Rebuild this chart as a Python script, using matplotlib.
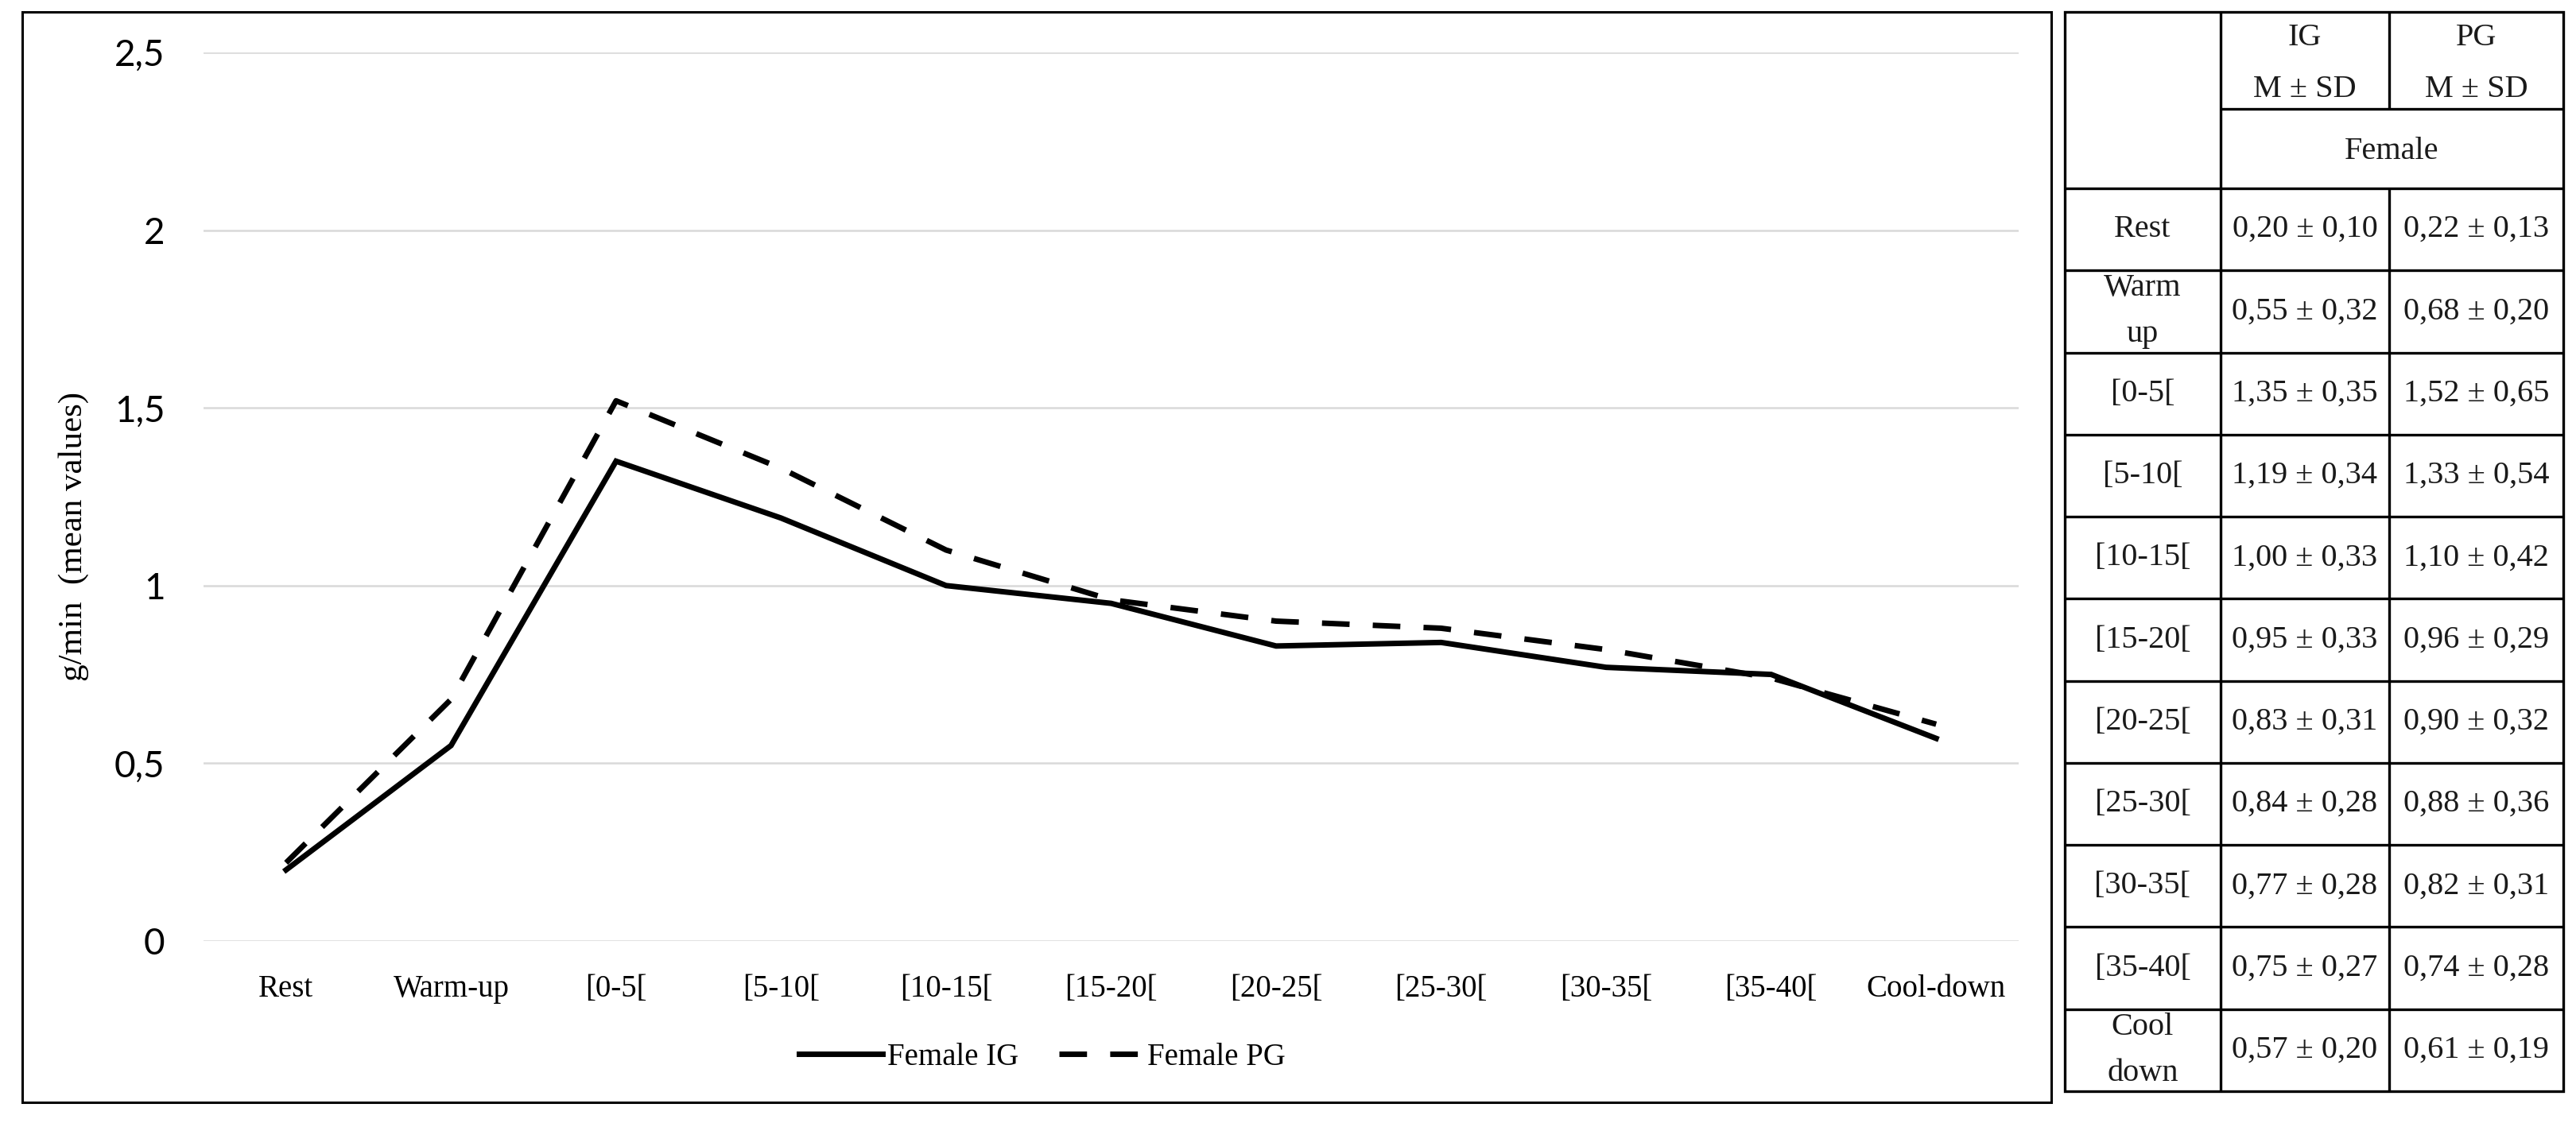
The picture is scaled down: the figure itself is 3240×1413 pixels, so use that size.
"""
Line chart of g/min mean values per exercise phase (Female IG vs PG),
with the summary table (M ± SD) drawn to the right.
"""

import matplotlib
matplotlib.use('Agg')
import matplotlib.pyplot as plt
from matplotlib.patches import Rectangle

# --- data -----------------------------------------------------------------
phases = ['Rest', 'Warm-up', '[0-5[', '[5-10[', '[10-15[', '[15-20[',
          '[20-25[', '[25-30[', '[30-35[', '[35-40[', 'Cool-down']
table_rows = ['Rest', 'Warm\nup', '[0-5[', '[5-10[', '[10-15[', '[15-20[',
              '[20-25[', '[25-30[', '[30-35[', '[35-40[', 'Cool\ndown']

ig_mean = [0.20, 0.55, 1.35, 1.19, 1.00, 0.95, 0.83, 0.84, 0.77, 0.75, 0.57]
ig_sd = [0.10, 0.32, 0.35, 0.34, 0.33, 0.33, 0.31, 0.28, 0.28, 0.27, 0.20]
pg_mean = [0.22, 0.68, 1.52, 1.33, 1.10, 0.96, 0.90, 0.88, 0.82, 0.74, 0.61]
pg_sd = [0.13, 0.20, 0.65, 0.54, 0.42, 0.29, 0.32, 0.36, 0.31, 0.28, 0.19]

y_ticks = [0, 0.5, 1, 1.5, 2, 2.5]
y_tick_labels = ['0', '0,5', '1', '1,5', '2', '2,5']

SERIF = 'Liberation Serif'
SANS = 'Lato'

W, H = 3241, 1413


def fmt(v):
    return f"{v:.2f}".replace('.', ',')


def fx(px):
    return px / W


def fy(py):
    return 1 - py / H


fig = plt.figure(figsize=(W / 100, H / 100), dpi=100)
fig.patch.set_facecolor('white')

# chart frame
fig.add_artist(Rectangle((fx(28), fy(1387)), fx(2580) - fx(28),
                         fy(15) - fy(1387), transform=fig.transFigure,
                         fill=False, ec='black', lw=2.2))

# --- line chart -------------------------------------------------------------
ax = fig.add_axes([fx(256), fy(1184), fx(2539) - fx(256), fy(66) - fy(1184)])
x = list(range(len(phases)))
ax.plot(x, ig_mean, color='black', lw=5, solid_joinstyle='miter',
        label='Female IG')
ax.plot(x, pg_mean, color='black', lw=5, linestyle=(0, (5.0, 4.2)),
        label='Female PG')

ax.set_xlim(-0.5, len(phases) - 0.5)
ax.set_ylim(0, 2.5)
ax.set_yticks(y_ticks)
ax.set_yticklabels(y_tick_labels, family=SANS, fontsize=33)
ax.set_xticks(x)
ax.set_xticklabels(phases, family=SERIF, fontsize=28)
ax.tick_params(axis='both', length=0)
ax.tick_params(axis='y', pad=35)
ax.tick_params(axis='x', pad=30)
ax.grid(axis='y', color='#d9d9d9', lw=1.8)
ax.set_axisbelow(True)
for s in ax.spines.values():
    s.set_visible(False)

ax.set_ylabel('g/min  (mean values)', family=SERIF, fontsize=31)
ax.yaxis.set_label_coords((112 - 256) / (2539 - 256), (1184 - 675) / (1184 - 66))

fig.legend(loc='center', bbox_to_anchor=(fx(1311), fy(1330)), ncol=2,
           frameon=False, prop={'family': SERIF, 'size': 28},
           handlelength=2.7, handletextpad=0.15, columnspacing=1.3)

# --- table ------------------------------------------------------------------
tx0, tx1, tx2, tx3 = 2597, 2793, 3005, 3224
ty0, ty1, ty2, ty_end = 15, 137, 237, 1373
row_h = (ty_end - ty2) / len(table_rows)

tax = fig.add_axes([fx(tx0) - 0.002, fy(ty_end) - 0.003,
                    fx(tx3) - fx(tx0) + 0.004, fy(ty0) - fy(ty_end) + 0.006])
tax.set_xlim(tx0 - 0.002 * W, tx3 + 0.002 * W)
tax.set_ylim(ty_end + 0.003 * H, ty0 - 0.003 * H)
tax.axis('off')

lw_t = 2.4
tax.add_patch(Rectangle((tx0, ty0), tx3 - tx0, ty_end - ty0, fill=False,
                        ec='black', lw=lw_t))
tax.vlines(tx1, ty0, ty_end, color='black', lw=lw_t)
tax.vlines(tx2, ty0, ty1, color='black', lw=lw_t)
tax.vlines(tx2, ty2, ty_end, color='black', lw=lw_t)
tax.hlines(ty1, tx1, tx3, color='black', lw=lw_t)
for i in range(len(table_rows)):
    tax.hlines(ty2 + i * row_h, tx0, tx3, color='black', lw=lw_t)

txt = dict(family=SERIF, fontsize=29, ha='center', va='center',
           color='#1a1a1a')
tax.text((tx1 + tx2) / 2, (ty0 + ty1) / 2 + 4, 'IG\nM ± SD',
         linespacing=2.0, **txt)
tax.text((tx2 + tx3) / 2, (ty0 + ty1) / 2 + 4, 'PG\nM ± SD',
         linespacing=2.0, **txt)
tax.text((tx1 + tx3) / 2, (ty1 + ty2) / 2 + 3, 'Female', **txt)

for i, name in enumerate(table_rows):
    yc = ty2 + (i + 0.5) * row_h
    tax.text((tx0 + tx1) / 2, yc, name, linespacing=1.75, **txt)
    tax.text((tx1 + tx2) / 2, yc, f"{fmt(ig_mean[i])} ± {fmt(ig_sd[i])}",
             **txt)
    tax.text((tx2 + tx3) / 2, yc, f"{fmt(pg_mean[i])} ± {fmt(pg_sd[i])}",
             **txt)

fig.savefig('out.png', dpi=100, facecolor='white')
